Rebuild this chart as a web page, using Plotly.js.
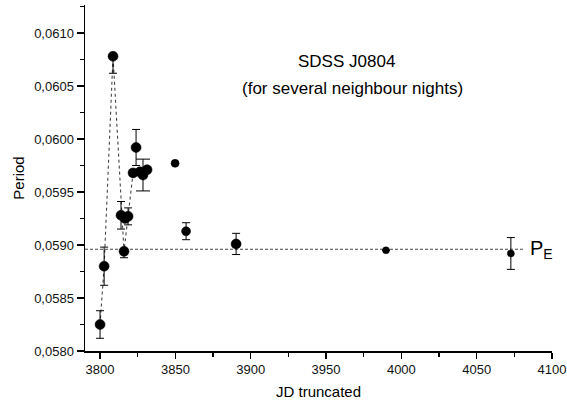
<!DOCTYPE html>
<html>
<head>
<meta charset="utf-8">
<script src="https://cdn.plot.ly/plotly-3.0.1.min.js"></script>
<style>html,body{margin:0;padding:0;background:#fff;}#chart{width:567px;height:407px;}</style>
</head>
<body>
<div id="chart"></div>
<script>
// Measured periods (JD truncated vs. period in days)
const jd       = [3800.0, 3802.7, 3808.6, 3813.9, 3815.9, 3816.6, 3818.6, 3821.9, 3823.9, 3826.5, 3831.2, 3849.8, 3857.1, 3890.3, 3989.8, 4072.7];
const period   = [0.05825, 0.05880, 0.06078, 0.05928, 0.05894, 0.05925, 0.05927, 0.05968, 0.05992, 0.05969, 0.05971, 0.05977, 0.05913, 0.05901, 0.05895, 0.05892];
const errPlus  = [0.00013, 0.00018, 0.00000, 0.00013, 0.00000, 0.00000, 0.00008, 0.00000, 0.00017, 0.00000, 0.00000, 0.00000, 0.00008, 0.00010, 0.00000, 0.00015];
const errMinus = [0.00013, 0.00018, 0.00016, 0.00013, 0.00006, 0.00000, 0.00008, 0.00000, 0.00017, 0.00000, 0.00000, 0.00000, 0.00008, 0.00010, 0.00000, 0.00015];
const markerSize = [10, 10, 10, 10, 10, 10, 10, 10, 10, 10, 10, 8, 9, 10, 7, 7];

// Point with wide error caps
const wideJd = [3828.5];
const widePeriod = [0.05966];
const wideErr = [0.00015];

// Dotted connecting line
const lineJd = [3800.0, 3802.7, 3808.6, 3815.9, 3821.9];
const linePeriod = [0.05825, 0.05880, 0.06078, 0.05894, 0.05968];

// Mean period P_E
const pE = 0.05896;
const pELineJd = [3790, 4080.7];

const tickVals = [3800, 3850, 3900, 3950, 4000, 4050, 4100];
const xRange = [3790, 4100];
const yRange = [0.0580, 0.061264];

const traces = [
  {x: lineJd, y: linePeriod, mode: 'lines', line: {color: '#444', width: 1.1, dash: 'dot'}, hoverinfo: 'skip'},
  {x: pELineJd, y: pELineJd.map(() => pE), mode: 'lines', line: {color: '#444', width: 1.1, dash: '3px,2px'}, hoverinfo: 'skip'},
  {x: jd, y: period, mode: 'markers', marker: {color: '#000', size: markerSize, symbol: 'circle', opacity: 1, line: {color: '#000', width: 0.5}},
   error_y: {type: 'data', symmetric: false, array: errPlus, arrayminus: errMinus, color: '#000', thickness: 1, width: 4}},
  {x: wideJd, y: widePeriod, mode: 'markers', marker: {color: '#000', size: 10, opacity: 1, line: {color: '#000', width: 0.5}},
   error_y: {type: 'data', array: wideErr, color: '#000', thickness: 1, width: 7}}
];

const tickFont = {family: 'Liberation Sans, Arial, sans-serif', size: 13, color: '#111'};
const titleFont = {family: 'Liberation Sans, Arial, sans-serif', size: 15, color: '#000'};

const layout = {
  width: 567, height: 407,
  margin: {l: 85, r: 15, t: 5, b: 56},
  paper_bgcolor: '#fff', plot_bgcolor: '#fff',
  showlegend: false,
  separators: ', ',
  xaxis: {
    range: xRange, tickvals: tickVals, ticktext: tickVals.map(String),
    ticks: 'outside', ticklen: 6, tickwidth: 1.2, tickcolor: '#000',
    minor: {ticks: 'outside', dtick: 25, tick0: 3800, ticklen: 4, tickcolor: '#000'},
    showline: true, linecolor: '#000', linewidth: 1.5, showgrid: false, zeroline: false,
    tickfont: tickFont, ticklabeloverflow: 'allow',
    title: {text: 'JD truncated', font: titleFont, standoff: 10}
  },
  yaxis: {
    range: yRange, dtick: 0.0005, tick0: 0.058, tickformat: '.4f',
    ticks: 'outside', ticklen: 7, tickwidth: 1.2, tickcolor: '#000',
    minor: {ticks: 'outside', dtick: 0.00025, ticklen: 4, tickcolor: '#000'},
    showline: true, linecolor: '#000', linewidth: 1.5, showgrid: false, zeroline: false,
    tickfont: tickFont, ticklabeloverflow: 'allow',
    title: {text: 'Period', font: titleFont, standoff: 6}
  },
  xaxis2: {
    overlaying: 'x', side: 'top', anchor: 'y', range: xRange, tickvals: tickVals,
    showticklabels: false, ticks: 'inside', ticklen: 5, tickcolor: '#000',
    minor: {ticks: 'inside', dtick: 25, tick0: 3800, ticklen: 3, tickcolor: '#000'},
    showline: true, linecolor: '#000', linewidth: 1.5, showgrid: false, zeroline: false
  },
  yaxis2: {
    overlaying: 'y', side: 'right', anchor: 'x', range: yRange, dtick: 0.0005, tick0: 0.058,
    showticklabels: false, ticks: 'inside', ticklen: 6, tickcolor: '#000',
    minor: {ticks: 'inside', dtick: 0.00025, ticklen: 3, tickcolor: '#000'},
    showline: true, linecolor: '#000', linewidth: 1.5, showgrid: false, zeroline: false
  },
  annotations: [
    {xref: 'paper', yref: 'paper', x: 0.559, y: 0.87, text: 'SDSS J0804', showarrow: false,
     font: {family: 'Liberation Sans, Arial, sans-serif', size: 17, color: '#000'}},
    {xref: 'paper', yref: 'paper', x: 0.572, y: 0.792, text: '(for several neighbour nights)', showarrow: false,
     font: {family: 'Liberation Sans, Arial, sans-serif', size: 17, color: '#000'}},
    {xref: 'x', yref: 'y', x: 4084, y: pE, xanchor: 'left', yanchor: 'middle', text: 'P<sub>E</sub>', showarrow: false,
     font: {family: 'Liberation Sans, Arial, sans-serif', size: 20, color: '#000'}}
  ]
};

Plotly.newPlot('chart', traces, layout, {displayModeBar: false, staticPlot: true});
</script>
</body>
</html>
